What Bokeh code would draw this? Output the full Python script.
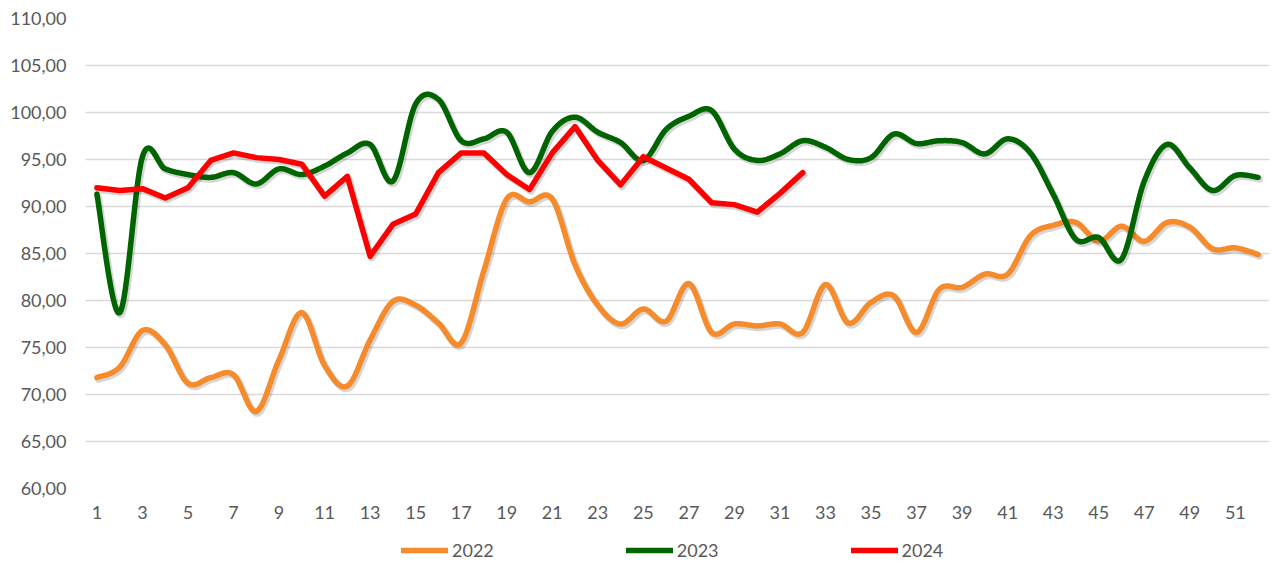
import numpy as np
from bokeh.plotting import figure
from bokeh.layouts import column
from bokeh.models import Range1d, FixedTicker, Legend, LegendItem
from bokeh.embed import file_html
from bokeh.resources import INLINE

# ---------------- data ----------------
weeks = list(range(1, 53))
weeks_2024 = list(range(1, 33))

v2022 = [71.8, 72.9, 76.8, 75.3, 71.2, 71.8, 72.1, 68.2, 73.7, 78.7,
         73.1, 70.9, 75.8, 79.9, 79.5, 77.6, 75.5, 83.2, 90.8, 90.5,
         90.8, 83.8, 79.5, 77.5, 79.1, 77.8, 81.8, 76.6, 77.5, 77.3,
         77.5, 76.6, 81.7, 77.6, 79.8, 80.5, 76.6, 81.2, 81.4, 82.8,
         82.8, 86.9, 88.0, 88.3, 86.3, 87.9, 86.3, 88.3, 87.8, 85.5,
         85.6, 84.9]

v2023 = [91.3, 78.7, 95.3, 94.0, 93.4, 93.1, 93.6, 92.4, 94.0, 93.4,
         94.3, 95.7, 96.6, 92.7, 100.9, 101.4, 97.0, 97.2, 97.9, 93.6,
         98.0, 99.5, 97.9, 96.8, 94.9, 98.2, 99.6, 100.2, 96.1, 94.9,
         95.6, 97.0, 96.3, 95.0, 95.2, 97.7, 96.7, 97.0, 96.8, 95.6,
         97.2, 95.7, 91.3, 86.5, 86.7, 84.4, 92.7, 96.6, 94.1, 91.7,
         93.3, 93.1]

v2024 = [92.0, 91.7, 91.9, 90.9, 92.0, 94.9, 95.7, 95.2, 95.0, 94.5,
         91.1, 93.2, 84.7, 88.1, 89.2, 93.6, 95.7, 95.7, 93.4, 91.8,
         95.7, 98.5, 94.9, 92.3, 95.3, 94.1, 92.9, 90.4, 90.2, 89.4,
         91.4, 93.6]

series_names = ["2022", "2023", "2024"]
x_ticks = list(range(1, 53, 2))
y_ticks = [60, 65, 70, 75, 80, 85, 90, 95, 100, 105, 110]
y_tick_labels = ["60,00", "65,00", "70,00", "75,00", "80,00", "85,00",
                 "90,00", "95,00", "100,00", "105,00", "110,00"]

ORANGE = "#F68B2C"
GREEN = "#006400"
RED = "#FF0000"
COLORS = [ORANGE, GREEN, RED]
FONT = "Lato"
FSIZE = "18px"
TXT = "#595959"
W = 1270


def smooth(x, y, n=24):
    """Excel-style smoothed line: cubic Bezier through the points."""
    P = np.column_stack([np.asarray(x, float), np.asarray(y, float)])
    E = np.vstack([P[0], P, P[-1]])
    t = np.linspace(0, 1, n, endpoint=False)[:, None]
    out = []
    for i in range(len(P) - 1):
        p0, p1, p2, p3 = E[i], E[i + 1], E[i + 2], E[i + 3]
        c1 = p1 + (p2 - p0) / 6.0
        c2 = p2 - (p3 - p1) / 6.0
        out.append((1 - t) ** 3 * p1 + 3 * (1 - t) ** 2 * t * c1
                   + 3 * (1 - t) * t ** 2 * c2 + t ** 3 * p2)
    out.append(P[-1:])
    a = np.vstack(out)
    return a[:, 0], a[:, 1]


p = figure(width=W, height=528,
           x_range=Range1d(0.5, 52.5), y_range=Range1d(60, 110),
           output_backend="svg", toolbar_location=None,
           min_border_left=85, min_border_right=1,
           min_border_top=18, min_border_bottom=40,
           outline_line_color=None,
           background_fill_color="white", border_fill_color="white")

# axes
p.xaxis.ticker = FixedTicker(ticks=x_ticks)
p.yaxis.ticker = FixedTicker(ticks=y_ticks)
p.yaxis.major_label_overrides = {t: l for t, l in zip(y_ticks, y_tick_labels)}
for ax in (p.xaxis, p.yaxis):
    ax.axis_line_color = None
    ax.major_tick_line_color = None
    ax.minor_tick_line_color = None
    ax.major_tick_out = 0
    ax.major_tick_in = 0
    ax.major_label_text_font = FONT
    ax.major_label_text_font_size = FSIZE
    ax.major_label_text_color = TXT
p.yaxis.major_label_standoff = 19
p.xaxis.major_label_standoff = 17

p.xgrid.grid_line_color = None
p.ygrid.ticker = FixedTicker(ticks=y_ticks)
p.ygrid.grid_line_color = "#D9D9D9"
p.ygrid.grid_line_width = 1.5

# shadow offsets (data units, ~2px)
dx, dy = 0.07, -0.22

for xs, ys, col, sm in ((weeks, v2022, ORANGE, True),
                        (weeks, v2023, GREEN, True),
                        (weeks_2024, v2024, RED, False)):
    if sm:
        sx, sy = smooth(xs, ys)
    else:
        sx, sy = np.asarray(xs, float), np.asarray(ys, float)
    p.line(sx + dx, sy + dy, line_color="black", line_alpha=0.16,
           line_width=6.5, line_cap="round", line_join="round")
    p.line(sx, sy, line_color=col, line_width=5.5,
           line_cap="round", line_join="round")

# ---------------- legend strip ----------------
lg = figure(width=W, height=34, x_range=Range1d(0, 1), y_range=Range1d(0, 1),
            output_backend="svg", toolbar_location=None, min_border=0,
            outline_line_color=None,
            background_fill_color="white", border_fill_color="white")
lg.axis.visible = False
lg.grid.visible = False
items = []
for name, col in zip(series_names, COLORS):
    r = lg.line([2, 3], [2, 3], line_color=col, line_width=5.5,
                line_cap="round")
    items.append(LegendItem(label=name, renderers=[r]))

legend = Legend(items=items, orientation="horizontal", location=(316, 1),
                spacing=132, glyph_width=47, glyph_height=10,
                label_standoff=4, padding=0, margin=0,
                label_text_font=FONT, label_text_font_size=FSIZE,
                label_text_color=TXT,
                border_line_color=None, background_fill_alpha=0)
lg.add_layout(legend, "center")

open("out.html", "w").write(file_html(column(p, lg), INLINE))
